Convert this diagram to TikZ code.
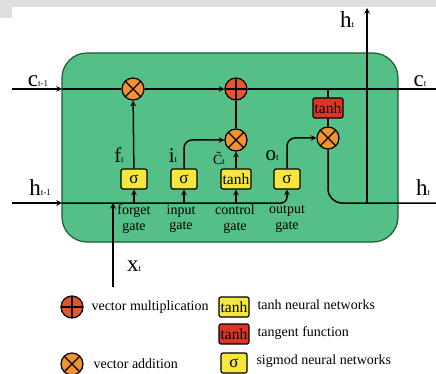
\documentclass[tikz,border=0pt]{standalone}
\usepackage{fontspec}
\setmainfont{Liberation Serif}
\usetikzlibrary{arrows}
\definecolor{cellgreen}{RGB}{84,192,135}
\definecolor{edgegreen}{RGB}{30,90,50}
\definecolor{gateyellow}{RGB}{246,230,62}
\definecolor{redfill}{RGB}{222,52,40}
\definecolor{multorange}{RGB}{240,146,50}
\definecolor{addorange}{RGB}{232,86,40}
\definecolor{bandgray}{RGB}{222,222,222}
\newcommand{\biglbl}[3]{{\fontsize{#1}{#1}\selectfont #2}{\fontsize{9}{9}\selectfont #3}}
\tikzset{
  sigbox/.style={draw, fill=gateyellow, rounded corners=2pt, line width=1.2pt,
    minimum width=26pt, minimum height=20pt, inner sep=0pt, font=\fontsize{17}{17}\selectfont},
  tanhbox/.style={sigbox, minimum width=30pt, font=\fontsize{15.5}{15.5}\selectfont},
  tanhred/.style={tanhbox, fill=redfill},
  mult/.style={circle, draw, fill=multorange, line width=1.2pt, minimum size=22pt, inner sep=0pt,
    path picture={\draw[line width=1.3pt] (path picture bounding box.north west) -- (path picture bounding box.south east)
      (path picture bounding box.north east) -- (path picture bounding box.south west);}},
  addc/.style={mult, fill=addorange,
    path picture={\draw[line width=1.3pt] (path picture bounding box.north) -- (path picture bounding box.south)
      (path picture bounding box.west) -- (path picture bounding box.east);}},
  gatetext/.style={align=center, font=\fontsize{14}{15.5}\selectfont},
  legtext/.style={anchor=west, font=\fontsize{14}{14}\selectfont},
  wire/.style={line width=1.5pt},
  flow/.style={->, >=stealth, line width=1.5pt},
}
\begin{document}
\begin{tikzpicture}[x=1pt, y=-1pt]
\useasboundingbox (0,0) rectangle (436,374);
\fill[bandgray] (0,0) rectangle (436,7);
\fill[bandgray] (0,0) rectangle (12,18);
% cell body
\draw[fill=cellgreen, draw=edgegreen, line width=1.2pt, rounded corners=25pt] (62,53) rectangle (398,242);

\coordinate (cin) at (12,89);
\coordinate (cbox) at (62,89);
\coordinate (cout) at (436,89);
\coordinate (hin) at (12,203);
\coordinate (hbox) at (62,203);
\coordinate (hout) at (436,203);
\coordinate (xin) at (113,287);
\coordinate (htop) at (367,8);

\node[mult] (m1) at (133,89) {};
\node[addc] (p1) at (236,89) {};
\node[tanhred] (tr) at (328,108) {tanh};
\node[mult] (m2) at (236,140) {};
\node[mult] (m3) at (328,138) {};
\node[sigbox] (fg) at (134,179) {σ};
\node[sigbox] (ig) at (184,179) {σ};
\node[tanhbox] (cg) at (236,179) {tanh};
\node[sigbox] (og) at (287,179) {σ};

% cell state
\draw[flow] (cin) -- (cbox);
\draw[wire] (cbox) -- (m1);
\draw[flow] (m1) -- (p1);
\draw[wire] (p1) -- (cout);
\draw[wire] (tr.north |- cout) -- (tr);
\draw[wire] (tr) -- (m3);
\draw[wire] (m2) -- (p1);

% gates
\draw[flow] (fg) -- (m1);
\draw[flow, rounded corners=8pt] (ig.north) |- (m2.west);
\draw[flow] (cg) -- (m2);
\draw[flow, rounded corners=8pt] (og.north) |- (m3.west);

% hidden state
\draw[flow] (hin) -- (hbox);
\draw[flow, rounded corners=6pt] (hbox) -| (og.south);
\draw[flow] (fg.south |- hbox) -- (fg);
\draw[flow] (ig.south |- hbox) -- (ig);
\draw[flow] (cg.south |- hbox) -- (cg);
\draw[flow] (xin) -- (xin |- hbox);
\draw[wire, rounded corners=14pt] (m3.south) |- (hout);
\draw[flow] (htop |- hout) -- (htop);

% labels
\node (lc0) at (38,81) {\biglbl{23}{c}{t-1}};
\node (lc1) at (420,81) {\biglbl{23}{c}{t}};
\node (lh0) at (40,188) {\biglbl{23}{h}{t-1}};
\node (lh1) at (423,188) {\biglbl{23}{h}{t}};
\node (lh2) at (347,20) {\biglbl{23}{h}{t}};
\node (lx) at (134,266) {\biglbl{23}{x}{t}};
\node (lf) at (119,155) {\biglbl{21}{f}{t}};
\node (li) at (173,156) {\biglbl{21}{i}{t}};
\node[inner sep=0pt] (lct) at (219,158) {\biglbl{14}{\~C}{t}};
\node (lo) at (272,156) {\biglbl{21}{o}{t}};
\node[gatetext] (tf) at (134,219) {forget\\gate};
\node[gatetext] (ti) at (181,219) {input\\gate};
\node[gatetext] (tc) at (235,219) {control\\gate};
\node[gatetext] (to) at (287,219) {output\\gate};

% legend
\node[addc] (kp) at (72,307) {};
\node[legtext] (kpt) at (88,307) {vector multiplication};
\node[mult] (km) at (72,364) {};
\node[legtext] (kmt) at (90,364) {vector addition};
\node[tanhbox] (kt) at (234,307) {tanh};
\node[legtext] (ktt) at (254,305) {tanh neural networks};
\node[tanhred] (kr) at (234,334) {tanh};
\node[legtext] (krt) at (254,333) {tangent function};
\node[sigbox] (ks) at (234,363) {σ};
\node[legtext] (kst) at (253,361) {sigmod neural networks};
\end{tikzpicture}
\end{document}
